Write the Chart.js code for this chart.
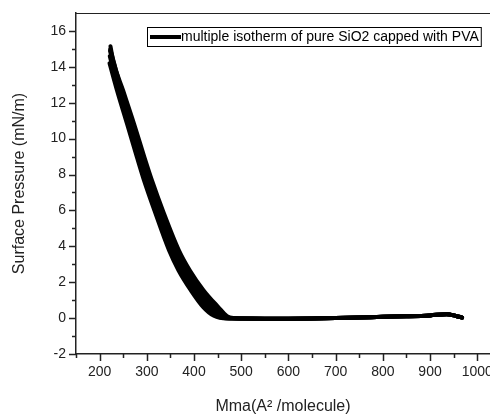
<!DOCTYPE html>
<html>
<head>
<meta charset="utf-8">
<script src="https://cdn.jsdelivr.net/npm/chart.js@4/dist/chart.umd.min.js"></script>
<style>
  html, body { margin: 0; padding: 0; background: #fff; }
  #wrap { width: 490px; height: 416px; }
</style>
</head>
<body>
<div id="wrap"><canvas id="iso"></canvas></div>
<script>
// tick labels
const xTicks = [200, 300, 400, 500, 600, 700, 800, 900, 1000];
const yTicks = [-2, 0, 2, 4, 6, 8, 10, 12, 14, 16];

// compression part of each run (Mma, surface pressure)
const run1_x = [221, 237, 258, 279, 294, 316, 347, 367, 393, 419, 442, 470];
const run1_y = [14.2, 12.67, 10.83, 8.96, 7.67, 6.0, 3.78, 2.67, 1.56, 0.63, 0.13, -0.02];
const run2_x = [221.5, 240, 262, 283, 298, 320, 352, 373, 400, 427, 449, 474];
const run2_y = [14.6, 12.67, 10.83, 8.96, 7.67, 6.0, 3.78, 2.67, 1.56, 0.63, 0.12, -0.02];
const run3_x = [222, 243, 266, 287, 302, 325, 357, 379, 407, 435, 456, 477];
const run3_y = [14.9, 12.67, 10.83, 8.96, 7.67, 6.0, 3.78, 2.67, 1.56, 0.63, 0.12, -0.01];
const run4_x = [222.5, 247, 270, 291, 307, 330, 363, 385, 413, 443, 463, 480];
const run4_y = [15.0, 12.67, 10.83, 8.96, 7.67, 6.0, 3.78, 2.67, 1.56, 0.63, 0.11, 0.0];
const run5_x = [223, 229, 250, 273, 295, 311, 334, 368, 391, 420, 451, 470, 483];
const run5_y = [15.15, 14.33, 12.67, 10.83, 8.96, 7.67, 6.0, 3.78, 2.67, 1.56, 0.63, 0.11, 0.0];

// gas phase plateau, shared by all runs
const flat_x = [500, 550, 600, 650, 700, 750, 800, 850, 900, 935, 955, 968];
const flat_y = [-0.02, -0.03, -0.03, -0.02, 0.0, 0.03, 0.07, 0.1, 0.15, 0.22, 0.12, 0.03];

const legendText = 'multiple isotherm of pure SiO2 capped with PVA';

function pts(xs, ys) {
  const out = xs.map((x, i) => ({x: x, y: ys[i]}));
  return out.concat(flat_x.map((x, i) => ({x: x, y: flat_y[i]})));
}

const runs = [[run1_x, run1_y], [run2_x, run2_y], [run3_x, run3_y], [run4_x, run4_y], [run5_x, run5_y]];
const datasets = runs.map(r => ({
  data: pts(r[0], r[1]),
  borderColor: '#000',
  borderWidth: 4,
  pointRadius: 0,
  cubicInterpolationMode: 'monotone',
  borderCapStyle: 'round',
  borderJoinStyle: 'round',
  fill: false
}));

const FONT = '"Liberation Sans", Arial, sans-serif';

const decor = {
  id: 'decor',
  afterDraw(chart) {
    const ctx = chart.ctx;
    const a = chart.chartArea;
    const xs = chart.scales.x, ys = chart.scales.y;
    ctx.save();
    ctx.strokeStyle = '#222';
    ctx.lineWidth = 1.5;
    // major + minor ticks, x axis
    ctx.beginPath();
    for (let v = 150; v <= 1027; v += 50) {
      const px = Math.round(xs.getPixelForValue(v)) + 0.5;
      const len = (v % 100 === 0) ? 7 : 4;
      ctx.moveTo(px, a.bottom);
      ctx.lineTo(px, a.bottom + len);
    }
    // y axis
    for (let v = -2; v <= 16; v += 1) {
      const py = Math.round(ys.getPixelForValue(v)) + 0.5;
      const len = (v % 2 === 0) ? 7 : 4;
      ctx.moveTo(a.left, py);
      ctx.lineTo(a.left - len, py);
    }
    ctx.stroke();
    // top frame
    ctx.lineWidth = 1;
    ctx.beginPath();
    ctx.moveTo(a.left, a.top + 0.5);
    ctx.lineTo(a.right, a.top + 0.5);
    ctx.stroke();

    // legend box
    ctx.font = '14px ' + FONT;
    const tw = ctx.measureText(legendText).width;
    const bx = 147, by = 27, bh = 19;
    const tx = 181;
    ctx.fillStyle = '#fff';
    ctx.fillRect(bx, by, tx + tw + 2 - bx, bh);
    ctx.strokeStyle = '#000';
    ctx.lineWidth = 1;
    ctx.strokeRect(bx + 0.5, by + 0.5, tx + tw + 2 - bx, bh);
    ctx.lineWidth = 4;
    ctx.beginPath();
    ctx.moveTo(150, by + bh / 2 + 0.5);
    ctx.lineTo(tx, by + bh / 2 + 0.5);
    ctx.stroke();
    ctx.fillStyle = '#000';
    ctx.textBaseline = 'middle';
    ctx.fillText(legendText, tx, by + bh / 2 + 1);
    ctx.restore();
  }
};

new Chart(document.getElementById('iso'), {
  type: 'line',
  data: { datasets: datasets },
  options: {
    responsive: true,
    maintainAspectRatio: false,
    animation: false,
    layout: { padding: { top: 13, right: 0, left: 0, bottom: 0 } },
    plugins: { legend: { display: false }, tooltip: { enabled: false } },
    scales: {
      x: {
        type: 'linear',
        min: 150,
        max: 1027,
        afterBuildTicks: s => { s.ticks = xTicks.map(v => ({value: v})); },
        afterFit: s => { s.height = 62; s.paddingLeft = 0; s.paddingRight = 0; },
        grid: { drawOnChartArea: false, tickLength: 7, tickColor: 'rgba(0,0,0,0)' },
        border: { color: '#222', width: 1.5 },
        ticks: {
          color: '#222', padding: 3, maxRotation: 0, autoSkip: false,
          font: { family: FONT, size: 14 },
          callback: v => String(v)
        },
        title: {
          display: true,
          text: 'Mma(A\u00B2 /molecule)',
          color: '#222',
          padding: { top: 0, bottom: 0 },
          font: { family: FONT, size: 16 }
        }
      },
      y: {
        type: 'linear',
        min: -2,
        max: 17,
        afterBuildTicks: s => { s.ticks = yTicks.map(v => ({value: v})); },
        afterFit: s => { s.width = 76; },
        grid: { drawOnChartArea: false, tickLength: 7, tickColor: 'rgba(0,0,0,0)' },
        border: { color: '#222', width: 1.5 },
        ticks: { color: '#222', padding: 3, font: { family: FONT, size: 14 } },
        title: {
          display: true,
          text: 'Surface Pressure (mN/m)',
          color: '#222',
          padding: { top: 10, bottom: 0 },
          font: { family: FONT, size: 16 }
        }
      }
    }
  },
  plugins: [decor]
});
</script>
</body>
</html>
